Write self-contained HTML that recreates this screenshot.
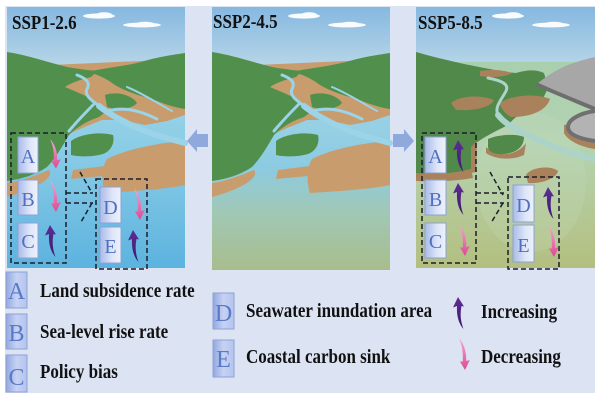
<!DOCTYPE html>
<html><head><meta charset="utf-8"><style>
html,body{margin:0;padding:0;background:#fff;}
svg{display:block;}
.t{font-family:"Liberation Serif",serif;font-weight:bold;font-size:17px;fill:#111;}
.L{font-family:"Liberation Serif",serif;font-size:20px;fill:#4f6fbf;text-anchor:middle;}
.LL{font-family:"Liberation Serif",serif;font-size:24px;fill:#5a7ac8;text-anchor:middle;}
</style></head><body>
<svg width="600" height="400" viewBox="0 0 600 400" xmlns="http://www.w3.org/2000/svg">
<defs>
<linearGradient id="sky" x1="0" y1="0" x2="0" y2="1"><stop offset="0" stop-color="#86b8e0"/><stop offset="1" stop-color="#c0dbe9"/></linearGradient>
<linearGradient id="w1" x1="0" y1="0" x2="0" y2="1"><stop offset="0" stop-color="#a6d8e8"/><stop offset="0.45" stop-color="#88cbe6"/><stop offset="1" stop-color="#5cb3df"/></linearGradient>
<linearGradient id="w2" x1="0" y1="0" x2="0" y2="1"><stop offset="0" stop-color="#a6d8e8"/><stop offset="0.5" stop-color="#8ccbe2"/><stop offset="0.72" stop-color="#a0c8b6"/><stop offset="1" stop-color="#a8bd8c"/></linearGradient>
<linearGradient id="w3" x1="0" y1="0" x2="0" y2="1"><stop offset="0" stop-color="#a8cfae"/><stop offset="0.4" stop-color="#b5d3b2"/><stop offset="1" stop-color="#b3bf7f"/></linearGradient>
<linearGradient id="lb" x1="0" y1="0" x2="1" y2="0"><stop offset="0" stop-color="#a9bbea"/><stop offset="0.6" stop-color="#dfe6f9"/><stop offset="1" stop-color="#edf1fc"/></linearGradient>
<linearGradient id="lg" x1="0" y1="0" x2="1" y2="0"><stop offset="0" stop-color="#93a8e0"/><stop offset="0.5" stop-color="#c6d2f3"/><stop offset="1" stop-color="#b4c4ee"/></linearGradient>
<linearGradient id="pk" x1="0" y1="0" x2="0" y2="1"><stop offset="0" stop-color="#f6a8d2"/><stop offset="1" stop-color="#dc4a93"/></linearGradient>
<linearGradient id="pu" x1="0" y1="0" x2="0" y2="1"><stop offset="0" stop-color="#5e2e96"/><stop offset="1" stop-color="#3c1a6c"/></linearGradient>
<path id="up" fill="url(#pu)" d="M5,0 L11,9.5 L8.5,9 C7,17 7.5,24 10.5,32 C5,26 3.5,17 4,9 L0,10.5 Z"/>
<path id="dn" fill="url(#pk)" d="M1,0 C6,6 8.6,14 8.2,23 L11.8,22 L7,32 L2,23.5 L4.8,23.5 C5.2,14 4,7 1,0 Z"/>
<g id="clouds" fill="#ffffff" opacity="0.95">
<ellipse cx="92" cy="9" rx="16" ry="2.6"/><ellipse cx="97" cy="7.5" rx="8" ry="2.2"/>
<ellipse cx="135" cy="18" rx="19" ry="2.4"/><ellipse cx="138" cy="16.8" rx="9" ry="2"/>
</g>
<g id="land12">
<rect x="0" y="0" width="178" height="70" fill="url(#sky)"/>
<use href="#clouds"/>
<path fill="#c89c6c" d="M0,60 L178,52 L178,108 L160,114 L138,118 L115,113 L95,113 L75,121 L55,130 L35,150 L15,165 L0,170 Z"/>
<path fill="#c89c6c" d="M100,152 C120,142 150,136 178,134 L178,178 C160,182 130,184 98,186 C94,175 95,160 100,152 Z"/>
<path fill="#c89c6c" d="M0,176 C15,174 30,168 42,163 C48,170 30,182 0,190 Z"/>
<path fill="#c89c6c" d="M66,163 L98,159 L96,169 L64,172 Z"/>
<path fill="#51904c" d="M0,45 C20,48 40,55 60,60 C72,62 80,63 90,64 L84,70 C72,73 64,76 58,80 L72,86 C82,90 92,96 100,104 L92,110 C80,114 70,120 62,128 C55,140 48,152 40,160 C28,168 15,172 0,174 Z"/>
<path fill="#51904c" d="M84,64 C100,61 118,59 134,55 C150,50 165,48 178,46 L178,102 C165,100 155,96 145,92 C130,88 118,84 108,78 C100,72 92,68 84,66 Z"/>
<path fill="#51904c" d="M98,88 C110,84 125,88 130,96 C125,102 110,104 100,100 Z"/>
<path fill="#51904c" d="M64,134 C72,128 90,124 106,128 C108,136 104,144 96,147 C85,150 72,150 64,148 Z"/>
<g fill="none" stroke="#9bd3e8" stroke-linecap="round">
<path stroke-width="3" d="M70,68 C78,71 84,75 80,82 C77,88 84,93 92,99"/>
<path stroke-width="6" d="M92,99 C102,107 112,112 124,118 C140,126 156,130 178,136"/>
<path stroke-width="3" d="M88,96 C80,104 72,112 62,124"/>
<path stroke-width="3" d="M100,104 C115,100 130,102 150,112"/>
<path stroke-width="2" d="M120,80 C135,86 150,96 165,104"/>
</g>
</g>
<clipPath id="c3"><rect x="0" y="0" width="179" height="261"/></clipPath>
</defs>

<rect x="5" y="6" width="590" height="387" fill="#dce3f3"/>

<!-- Panel 1 -->
<g transform="translate(7,7)">
<rect x="0" y="55" width="178" height="206" fill="url(#w1)"/>
<use href="#land12"/>
</g>
<!-- Panel 2 -->
<g transform="translate(212,7)">
<rect x="0" y="55" width="178" height="208" fill="url(#w2)"/>
<use href="#land12"/>
</g>
<!-- Panel 3 -->
<g transform="translate(416,7)" clip-path="url(#c3)">
<rect x="0" y="0" width="179" height="70" fill="url(#sky)"/>
<rect x="0" y="55" width="179" height="206" fill="url(#w3)"/>
<ellipse cx="115" cy="175" rx="55" ry="70" fill="#c2dcbc" opacity="0.25"/>
<use href="#clouds"/>
<path fill="#50894a" d="M0,45 C25,52 50,58 90,65 L100,66 C110,63 120,62 128,66 L132,80 C128,92 122,100 112,104 C100,108 96,114 92,118 C80,124 68,130 60,136 C58,148 56,158 55,165 C35,168 15,168 0,168 Z"/>
<path fill="#a9825c" d="M0,166 C20,168 40,166 55,162 L57,171 C40,174 20,175 0,174 Z"/>
<path fill="#a9825c" d="M55,140 L61,134 L60,165 L55,166 Z"/>
<path fill="#a9825c" d="M64,64 C75,62 88,63 96,66 C90,70 75,71 64,69 Z"/>
<path fill="#a9825c" d="M35,96 C45,88 65,88 78,93 C75,100 60,104 40,103 Z"/>
<path fill="#a9825c" d="M84,96 C95,88 120,86 134,92 C130,104 115,110 95,110 C88,106 84,100 84,96 Z"/>
<path fill="#a7a7a7" d="M122,76 C132,68 142,62 152,58 C160,55 170,52 179,50 L179,100 C165,96 150,89 138,83 Z"/>
<path fill="none" stroke="#6e6e6e" stroke-width="4" d="M120,77 C135,84 155,92 179,102"/>
<path fill="#a9825c" d="M148,118 C160,116 172,120 179,124 L179,142 C165,140 152,134 148,126 Z"/>
<path fill="#b3b3b3" stroke="#707070" stroke-width="4" d="M179,104 C165,106 152,112 152,120 C152,128 165,132 179,134"/>
<g fill="none" stroke="#abd3c9" stroke-linecap="round">
<path stroke-width="3" d="M72,71 C82,73 94,76 90,84 C86,92 78,100 82,108"/>
<path stroke-width="6" d="M82,108 C88,116 98,122 112,128 C128,136 150,146 179,152"/>
</g>
<path fill="#a9825c" d="M70,140 C80,150 100,150 110,136 L108,148 C95,154 78,152 70,146 Z"/>
<path fill="#50894a" d="M72,132 C80,128 100,126 108,130 C108,140 100,146 88,147 C80,148 72,145 72,140 Z"/>
<path fill="#a9825c" d="M110,168 C115,160 135,158 142,164 C140,172 125,177 112,176 Z"/>
</g>

<!-- Titles -->
<text class="t" transform="translate(12,29) scale(1,1.15)">SSP1-2.6</text>
<text class="t" transform="translate(213,28) scale(1,1.15)">SSP2-4.5</text>
<text class="t" transform="translate(418,29) scale(1,1.15)">SSP5-8.5</text>

<!-- Between-panel arrows -->
<path fill="#8fa9dd" d="M187,141 L197,129 L197,134 L208,134 L208,147 L197,147 L197,152 Z"/>
<path fill="#8fa9dd" d="M414,141 L404,129 L404,134 L393,134 L393,147 L404,147 L404,152 Z"/>

<!-- Dashed boxes -->
<g fill="none" stroke="#1c1c2a" stroke-width="1.5" stroke-dasharray="5,3">
<rect x="11" y="133" width="55" height="130"/>
<rect x="96" y="179" width="51" height="90"/>
<path d="M66,193 L93,193 M66,203 L93,203 M80,172 L92,193 M92,203 L81,222"/>
<rect x="422" y="133" width="54" height="130"/>
<rect x="508" y="177" width="51" height="92"/>
<path d="M476,193 L504,193 M476,203 L504,203 M490,172 L503,195 M503,203 L491,223"/>
</g>

<g stroke="#8ea2d6" stroke-width="1" fill="url(#lb)">
<rect x="18" y="137" width="20" height="36"/>
<rect x="18" y="180" width="20" height="35"/>
<rect x="18" y="223" width="20" height="35"/>
<rect x="100" y="187" width="21" height="36"/>
<rect x="100" y="227" width="21" height="36"/>
<rect x="425" y="137" width="21" height="36"/>
<rect x="425" y="180" width="21" height="35"/>
<rect x="425" y="223" width="21" height="35"/>
<rect x="513" y="185" width="21" height="37"/>
<rect x="513" y="225" width="21" height="37"/>
</g>
<text class="L" x="28" y="163">A</text>
<text class="L" x="28" y="206">B</text>
<text class="L" x="28" y="248">C</text>
<text class="L" x="110.5" y="214">D</text>
<text class="L" x="110.5" y="253">E</text>
<text class="L" x="435.5" y="163">A</text>
<text class="L" x="435.5" y="206">B</text>
<text class="L" x="435.5" y="248">C</text>
<text class="L" x="523.5" y="212">D</text>
<text class="L" x="523.5" y="252">E</text>

<!-- trend arrows -->
<use href="#dn" transform="translate(49,139) scale(1,0.92)"/>
<use href="#dn" transform="translate(49,180)"/>
<use href="#up" transform="translate(45,225)"/>
<use href="#dn" transform="translate(133,188)"/>
<use href="#up" transform="translate(128,230)"/>
<use href="#up" transform="translate(453,140)"/>
<use href="#up" transform="translate(453,183)"/>
<use href="#dn" transform="translate(458,224)"/>
<use href="#up" transform="translate(543,187)"/>
<use href="#dn" transform="translate(547,225)"/>

<!-- Legend -->
<g stroke="#8ea2d6" stroke-width="1" fill="url(#lg)">
<rect x="6" y="272" width="21" height="36"/>
<rect x="6" y="314" width="21" height="35"/>
<rect x="6" y="355" width="21" height="37"/>
<rect x="213" y="293" width="21" height="36"/>
<rect x="213" y="340" width="21" height="37"/>
</g>
<text class="LL" x="16.5" y="299">A</text>
<text class="LL" x="16.5" y="341">B</text>
<text class="LL" x="16.5" y="385">C</text>
<text class="LL" x="223.5" y="321">D</text>
<text class="LL" x="223.5" y="367">E</text>

<text class="t" transform="translate(40,297) scale(1,1.15)">Land subsidence rate</text>
<text class="t" transform="translate(40,338) scale(1,1.15)">Sea-level rise rate</text>
<text class="t" transform="translate(40,378) scale(1,1.15)">Policy bias</text>
<text class="t" transform="translate(246,317) scale(1,1.15)">Seawater inundation area</text>
<text class="t" transform="translate(246,363) scale(1,1.15)">Coastal carbon sink</text>
<use href="#up" transform="translate(453,297)"/>
<use href="#dn" transform="translate(458,338)"/>
<text class="t" transform="translate(481,318) scale(1,1.15)">Increasing</text>
<text class="t" transform="translate(481,363) scale(1,1.15)">Decreasing</text>
</svg>
</body></html>
